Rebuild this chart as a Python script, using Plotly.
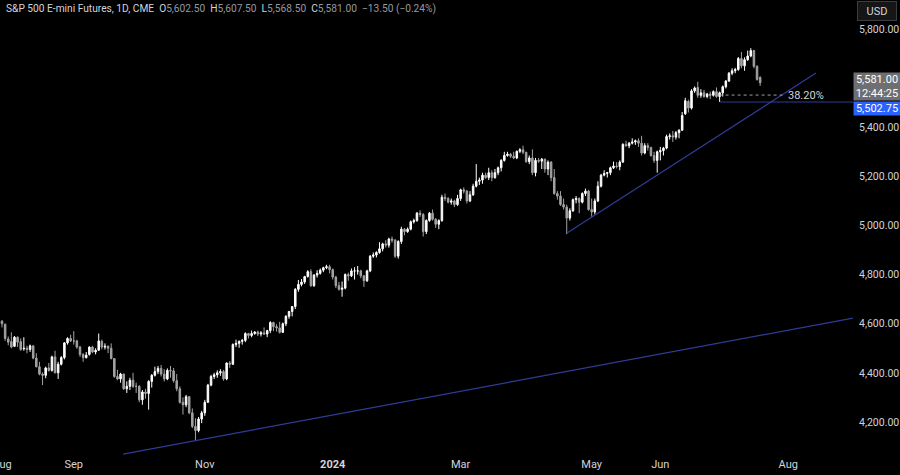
import pandas as pd
import plotly.graph_objects as go

# ---------------- data ----------------
holidays = ["2023-09-04", "2023-11-23", "2023-12-25", "2024-01-01", "2024-01-15",
            "2024-02-19", "2024-03-29", "2024-05-27", "2024-06-19", "2024-07-04"]

opens = [
    4605,
    4610,4598,4538,4527,4508,4545,4527,4498,4500,4495,4510,4460,4425,4395,4390,4420,4410,4465,4400,4435,4462,4522,4540,
    4530,4530,4505,4475,4462,4475,4505,4485,4492,4528,4505,4508,4500,4458,4385,4375,4395,4335,4345,4370,
    4345,4345,4290,4322,4316,4365,4390,4405,4418,4395,4375,4410,4408,4368,4335,4280,4270,4303,4237,4182,4165,4212,
    4237,4280,4350,4385,4392,4400,4405,4375,4440,4435,4515,4520,4528,4532,4560,4552,4560,4566,4558,4563,4558,
    4572,4605,4588,4583,4565,4600,4630,4650,4670,4740,4760,4770,4792,4812,4755,4798,4805,4818,4828,4832,
    4820,4790,4755,4740,4745,4800,4795,4815,4815,4815,4795,4775,4815,4875,4880,4890,4905,4925,4920,4945,4940,
    4875,4935,4985,4975,4985,5015,5020,5050,5045,4975,5020,5050,5025,5005,5020,5115,5110,5095,5100,5085,
    5110,5145,5140,5100,5125,5160,5180,5185,5205,5195,5215,5195,5215,5235,5265,5285,5290,5282,5275,5302,
    5308,5298,5260,5275,5215,5265,5262,5270,5230,5258,5195,5130,5120,5085,5075,5030,5060,5105,5110,5095,5130,5140,
    5065,5055,5100,5160,5205,5212,5215,5235,5242,5240,5258,5330,5325,5335,5340,5345,5335,5295,5325,5318,5285,5265,
    5300,5305,5315,5362,5365,5360,5378,5388,5455,5505,5478,5548,5562,5530,5540,5525,5535,5530,5545,
    5525,5540,5565,5588,5620,5630,5635,5680,5650,5675,5690,5712,5648,5602.5,
]
highs = [
    4625,
    4615,4600,4548,4565,4550,4548,4540,4545,4510,4515,4512,4480,4445,4402,4425,4440,4470,4490,4445,4468,4525,4545,4555,
    4570,4535,4510,4480,4485,4508,4510,4500,4560,4535,4520,4512,4520,4460,4412,4400,4396,4365,4380,4400,
    4360,4350,4330,4335,4370,4395,4425,4428,4432,4415,4418,4428,4420,4395,4345,4300,4310,4305,4255,4215,4220,4245,
    4290,4355,4392,4400,4410,4415,4412,4442,4448,4520,4535,4532,4538,4565,4563,4572,4570,4572,4570,4585,4575,
    4610,4608,4598,4608,4605,4635,4652,4672,4745,4778,4782,4795,4818,4822,4802,4818,4825,4832,4840,4840,
    4825,4795,4770,4772,4805,4808,4825,4830,4835,4820,4798,4820,4880,4890,4895,4932,4930,4940,4950,4955,4945,
    4940,4995,4990,4992,5020,5028,5055,5062,5050,5025,5055,5065,5030,5025,5125,5130,5115,5110,5105,5125,
    5150,5155,5145,5140,5170,5250,5195,5215,5215,5235,5225,5230,5240,5270,5300,5300,5295,5300,5305,5315,
    5325,5300,5285,5310,5275,5275,5275,5272,5265,5262,5230,5140,5140,5110,5085,5070,5110,5120,5115,5135,5150,5145,
    5110,5110,5180,5210,5225,5218,5240,5260,5258,5265,5335,5345,5340,5355,5350,5355,5365,5335,5335,5320,5300,5305,
    5320,5320,5370,5375,5385,5385,5392,5462,5520,5512,5555,5566,5585,5555,5552,5540,5545,5550,5562,
    5545,5570,5592,5625,5640,5642,5686,5706,5685,5712,5722,5715,5652,5607.5,
]
lows = [
    4598,
    4585,4530,4512,4500,4505,4505,4490,4490,4480,4485,4455,4422,4390,4350,4378,4405,4405,4398,4375,4430,4455,4515,4525,
    4515,4498,4465,4445,4458,4470,4480,4475,4490,4495,4495,4480,4455,4380,4370,4360,4330,4318,4330,4338,
    4318,4280,4270,4295,4250,4340,4385,4395,4385,4365,4370,4380,4360,4325,4275,4230,4260,4232,4175,4125,4158,4195,
    4225,4278,4345,4375,4380,4388,4368,4370,4420,4432,4505,4502,4515,4525,4540,4545,4555,4550,4548,4555,4545,
    4562,4570,4568,4560,4562,4590,4620,4630,4660,4730,4752,4762,4788,4750,4750,4788,4800,4810,4822,4805,
    4780,4745,4735,4710,4740,4775,4790,4780,4800,4785,4750,4770,4810,4868,4870,4885,4895,4910,4910,4930,4868,
    4865,4925,4960,4970,4980,5008,5015,5035,4955,4965,5015,5020,4990,4985,5015,5100,5090,5085,5075,5080,
    5100,5130,5090,5095,5120,5155,5165,5170,5190,5185,5180,5190,5205,5220,5260,5280,5275,5270,5270,5295,
    5290,5255,5250,5205,5200,5255,5230,5215,5205,5180,5125,5105,5080,5065,4965,5020,5055,5090,5050,5090,5120,5060,
    5035,5045,5095,5155,5200,5195,5205,5230,5232,5225,5255,5320,5315,5330,5328,5320,5285,5290,5305,5280,5255,5215,
    5265,5285,5310,5350,5340,5350,5355,5385,5450,5460,5472,5540,5520,5520,5520,5518,5515,5525,5520,
    5502.75,5525,5558,5585,5612,5620,5630,5640,5630,5670,5685,5640,5590,5568.5,
]
closes = [
    4610,
    4600,4540,4525,4505,4545,4525,4495,4500,4495,4510,4460,4425,4395,4390,4420,4410,4465,4400,4435,4462,4522,4540,4530,
    4530,4505,4475,4462,4472,4505,4485,4492,4530,4505,4508,4500,4458,4385,4375,4395,4335,4345,4370,4345,
    4345,4290,4322,4316,4365,4390,4405,4418,4395,4375,4410,4408,4368,4335,4280,4270,4303,4237,4182,4165,4212,4237,
    4280,4350,4385,4392,4400,4405,4375,4440,4435,4515,4520,4528,4532,4560,4552,4560,4566,4558,4563,4558,4572,
    4605,4588,4583,4565,4600,4630,4650,4670,4740,4760,4770,4792,4812,4755,4798,4805,4818,4828,4832,4820,
    4790,4755,4740,4745,4800,4795,4815,4815,4815,4795,4775,4815,4875,4880,4890,4905,4925,4920,4945,4940,4875,
    4935,4985,4975,4985,5015,5020,5050,5045,4975,5020,5050,5025,5005,5020,5115,5110,5095,5100,5085,5110,
    5145,5140,5100,5125,5160,5180,5185,5205,5195,5215,5195,5215,5235,5265,5285,5290,5282,5275,5302,5308,
    5298,5260,5275,5215,5265,5262,5270,5230,5258,5195,5130,5120,5085,5075,5030,5060,5105,5110,5095,5130,5140,5065,
    5055,5100,5160,5205,5212,5215,5235,5242,5240,5258,5330,5325,5335,5340,5345,5335,5295,5325,5318,5285,5265,5300,
    5305,5315,5362,5365,5360,5378,5388,5448,5508,5478,5548,5560,5530,5540,5525,5535,5530,5545,5525,
    5540,5565,5588,5620,5630,5635,5680,5650,5675,5690,5712,5648,5594.5,5581,
]

tick_dates = ["2023-08-01", "2023-09-01", "2023-11-01", "2024-01-02",
              "2024-03-01", "2024-05-01", "2024-06-03", "2024-08-01"]
tick_labels = ["Aug", "Sep", "Nov", "<b>2024</b>", "Mar", "May", "Jun", "Aug"]
price_ticks = [4200, 4400, 4600, 4800, 5000, 5200, 5400, 5600, 5800]

# drawings (bar-index, price)
trend_long_x, trend_long_y = [39.8, 273.8], [4069, 4623]
trend_short_x, trend_short_y = [182.1, 261.9], [4969, 5621]
support_level = 5502.75
support_start = "2024-07-01"
fib_level, fib_end_x, fib_label_x = 5531, 252, 258.7
last_price, countdown = 5581.00, "12:44:25"

# ---------------- build ----------------
hol = set(pd.to_datetime(holidays))
sessions = [d for d in pd.bdate_range("2023-07-31", "2024-08-30") if d not in hol]
pos = {d.strftime("%Y-%m-%d"): i for i, d in enumerate(sessions)}
n = len(closes)
dates = sessions[:n]
xs = list(range(n))

FONT = "Roboto, Arial, sans-serif"
TXT = "#d1d4dc"
UP, DOWN = "#ffffff", "#a3a3a3"
NAVY = "#2f3c98"

fig = go.Figure(go.Candlestick(
    x=xs, open=opens, high=highs, low=lows, close=closes,
    increasing=dict(line=dict(color=UP, width=1), fillcolor=UP),
    decreasing=dict(line=dict(color=DOWN, width=1), fillcolor=DOWN),
    whiskerwidth=0, hoverinfo="skip", showlegend=False,
))

sup_x0 = pos[support_start]
shapes = [
    dict(type="line", xref="x", yref="y", x0=trend_long_x[0], y0=trend_long_y[0],
         x1=trend_long_x[1], y1=trend_long_y[1], line=dict(color=NAVY, width=1.2)),
    dict(type="line", xref="x", yref="y", x0=trend_short_x[0], y0=trend_short_y[0],
         x1=trend_short_x[1], y1=trend_short_y[1], line=dict(color=NAVY, width=1.2)),
    dict(type="line", xref="x", yref="y", x0=sup_x0, y0=support_level,
         x1=320, y1=support_level, line=dict(color=NAVY, width=1.2)),
    dict(type="line", xref="x", yref="y", x0=sup_x0, y0=fib_level,
         x1=fib_end_x, y1=fib_level, line=dict(color="#9e9e9e", width=1, dash="dot")),
]

x0_rng = 0.359
x1_rng = x0_rng + 853 / 3.12
y_lo, y_hi = 4061.4, 5918.1

G = "#9598a1"
title = ("S&P 500 E-mini Futures, 1D, CME\u00a0\u00a0"
         f"O<span style='color:{G}'>5,602.50</span>\u00a0\u00a0"
         f"H<span style='color:{G}'>5,607.50</span>\u00a0\u00a0"
         f"L<span style='color:{G}'>5,568.50</span>\u00a0\u00a0"
         f"C<span style='color:{G}'>5,581.00</span>\u00a0\u00a0"
         f"<span style='color:{G}'>\u221213.50 (\u22120.24%)</span>")

annotations = [
    dict(xref="paper", yref="paper", x=0.005, y=1 - 9 / 456, xanchor="left", yanchor="middle",
         text=title, showarrow=False, font=dict(family=FONT, size=10.2, color=TXT)),
    dict(xref="x", yref="y", x=fib_label_x, y=fib_level, text="38.20%", showarrow=False,
         font=dict(family=FONT, size=11, color=TXT), xanchor="center", yanchor="middle"),
    dict(xref="paper", yref="y", x=1.0, y=last_price, yshift=-4, xanchor="left", yanchor="middle",
         text=f"{last_price:,.2f}<br>{countdown}", showarrow=False, align="center",
         bgcolor="#6e6f73", width=46, height=27, borderpad=0,
         font=dict(family=FONT, size=11, color="#ffffff")),
    dict(xref="paper", yref="y", x=1.0, y=support_level, yshift=-6, xanchor="left", yanchor="middle",
         text=f"{support_level:,.2f}", showarrow=False, align="center",
         bgcolor="#2962ff", width=46, height=13, borderpad=0,
         font=dict(family=FONT, size=11, color="#ffffff")),
    dict(xref="paper", yref="paper", x=877 / 853, y=1 - 11 / 456, xanchor="center", yanchor="middle",
         text="USD", showarrow=False, bgcolor="#161616", bordercolor="#3a3c42", borderwidth=1,
         width=36, height=16, font=dict(family=FONT, size=11, color=TXT)),
]

fig.update_layout(
    width=900, height=475,
    margin=dict(l=0, r=47, t=0, b=19, autoexpand=False),
    paper_bgcolor="#000000", plot_bgcolor="#000000",
    shapes=shapes, annotations=annotations,
    showlegend=False, hovermode=False,
    xaxis=dict(
        range=[x0_rng, x1_rng], rangeslider=dict(visible=False),
        tickmode="array", tickvals=[pos[d] for d in tick_dates], ticktext=tick_labels,
        showgrid=False, zeroline=False, showline=False, ticks="",
        ticklabeloverflow="allow", automargin=False,
        tickfont=dict(family=FONT, size=11, color=TXT),
    ),
    yaxis=dict(
        side="right", range=[y_lo, y_hi], automargin=False,
        tickmode="array", tickvals=price_ticks, tickformat=",.2f",
        showgrid=False, zeroline=False, showline=False, ticks="",
        tickfont=dict(family=FONT, size=10.5, color=TXT),
        ticklabelstandoff=5,
    ),
)

fig.write_html(
    "out.html",
    config={"displayModeBar": False, "staticPlot": True},
    post_script="document.body.style.margin='0';document.body.style.overflow='hidden';"
                "document.body.style.background='#000000';",
)
